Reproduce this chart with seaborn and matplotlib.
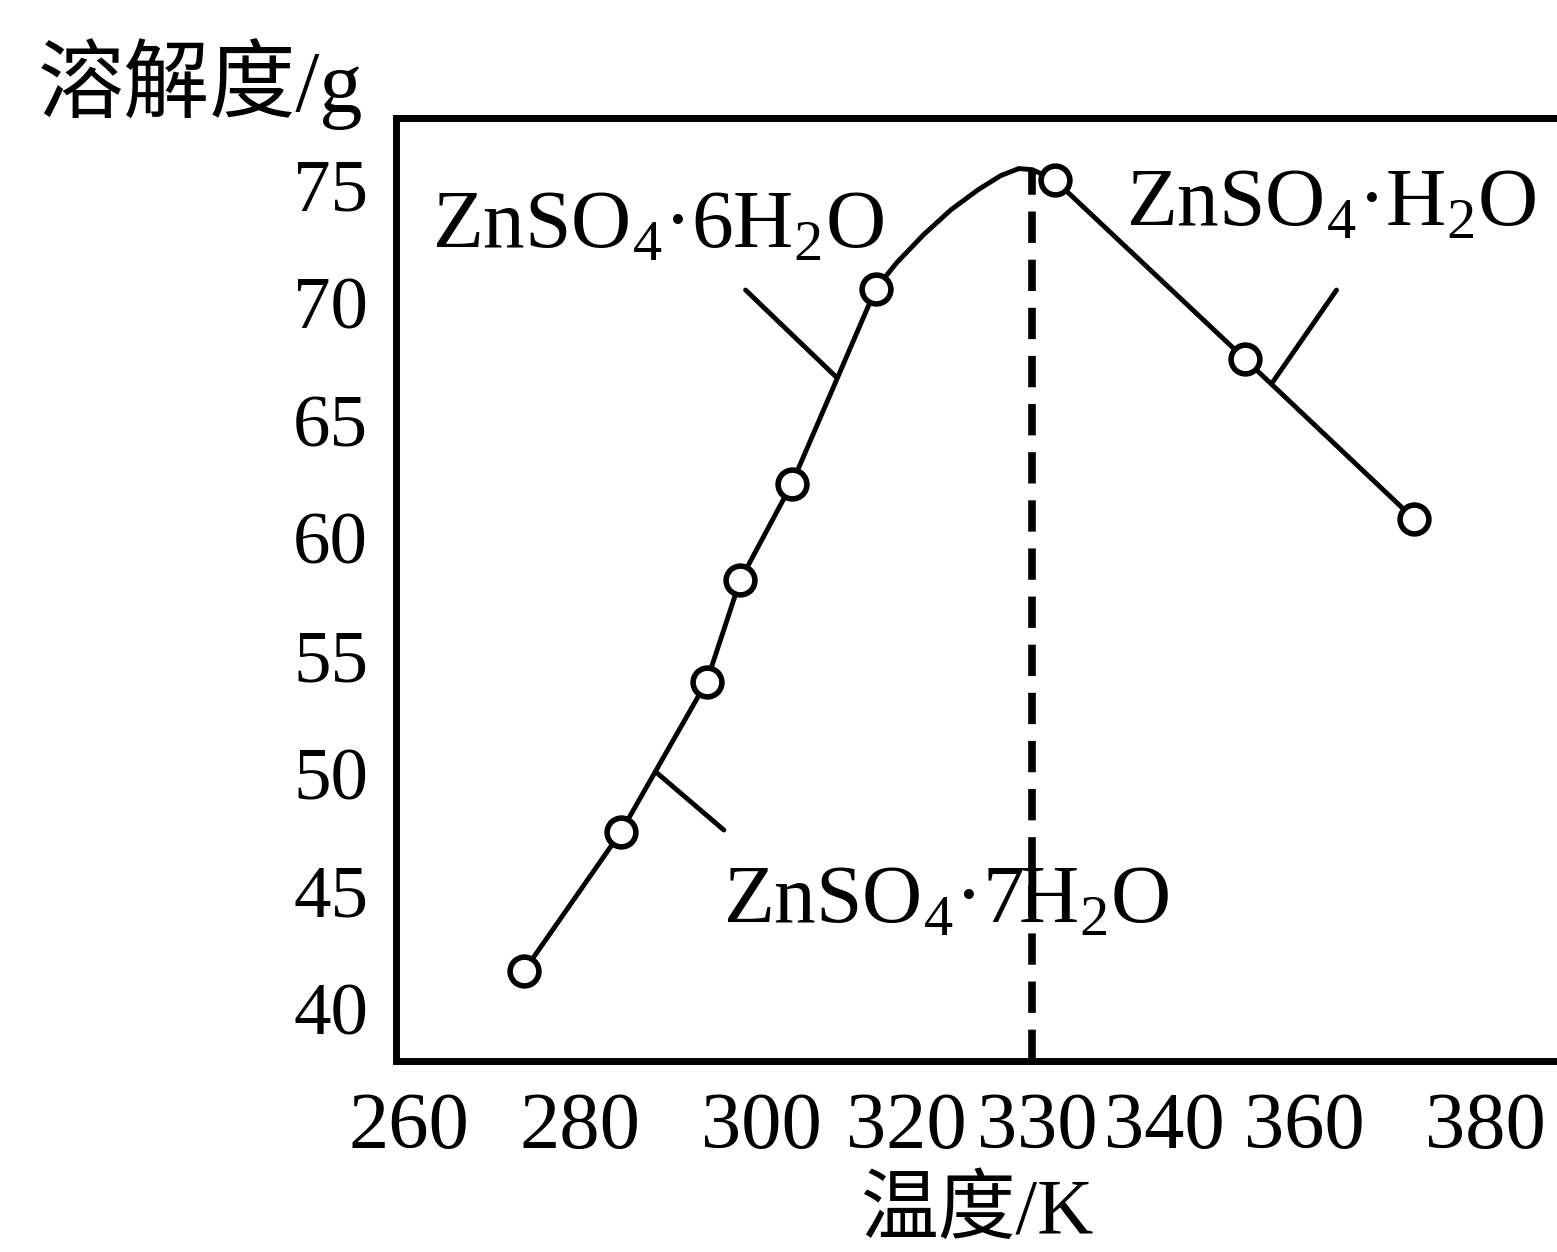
import matplotlib
matplotlib.use("Agg")
import matplotlib.pyplot as plt
import matplotlib.transforms as mtransforms
import seaborn as sns

temp_k = [273.8, 284.5, 294.0, 297.7, 303.4, 312.7, 332.5, 353.5, 372.2]
solub_g = [41.6, 47.5, 53.9, 58.2, 62.3, 70.6, 75.2, 67.6, 60.8]

# the drawn curve: measured points plus the bend near the transition
curve_k = [273.8, 284.5, 294.0, 297.7, 303.4, 312.7, 315.0, 318.0, 321.0,
           324.0, 326.5, 328.5, 330.0, 332.5, 353.5, 372.2]
curve_g = [41.6, 47.5, 53.9, 58.2, 62.3, 70.6, 71.7, 72.9, 73.95,
           74.8, 75.4, 75.7, 75.65, 75.2, 67.6, 60.8]

# transition temperature (dashed line)
trans_k = [330, 330]
trans_g = [37.8, 75.65]

x_ticks = [260, 280, 300, 320, 330, 340, 360, 380]
y_ticks = [40, 45, 50, 55, 60, 65, 70, 75]
x_shift_px = {260: 10, 320: -36, 330: 5, 340: 41}

phase_labels = ["ZnSO$_\\mathrm{4}$·6H$_\\mathrm{2}$O",
                "ZnSO$_\\mathrm{4}$·H$_\\mathrm{2}$O",
                "ZnSO$_\\mathrm{4}$·7H$_\\mathrm{2}$O"]
label_k = [263.6, 340.3, 295.8]
label_g = [72.37, 73.3, 43.7]
leader_k = [[298.3, 308.3], [363.6, 356.5], [288.5, 295.9]]
leader_g = [[70.54, 66.85], [70.54, 66.6], [50.03, 47.6]]

sns.set_style("white")
plt.rcParams["font.family"] = ["Liberation Serif", "Noto Sans CJK SC"]
plt.rcParams["mathtext.fontset"] = "custom"
plt.rcParams["mathtext.rm"] = "Liberation Serif"
for key in ["text.color", "axes.labelcolor", "xtick.color", "ytick.color"]:
    plt.rcParams[key] = "black"

fig = plt.figure(figsize=(15.57, 12.52), dpi=100)
ax = fig.add_axes([0.2543, 0.1526, 0.7457, 0.7532])

sns.lineplot(x=curve_k, y=curve_g, sort=False, estimator=None,
             color="black", lw=3.5, ax=ax)
ax.plot(trans_k, trans_g, color="black", lw=5.5, ls=(0, (4.1, 2.2)))
sns.scatterplot(x=temp_k, y=solub_g, marker="o", s=430, color="white",
                edgecolor="black", linewidth=4, zorder=4, ax=ax)

for txt, k, g in zip(phase_labels, label_k, label_g):
    ax.text(k, g, txt, fontsize=60, va="baseline", ha="left")
for lk, lg in zip(leader_k, leader_g):
    ax.plot(lk, lg, color="black", lw=3.5)

ax.set_xlim(259.67, 387.96)
ax.set_ylim(37.79, 77.85)
ax.set_xticks(x_ticks)
ax.set_yticks(y_ticks)
ax.tick_params(axis="x", direction="in", length=15, width=3.6,
               labelsize=58, pad=22)
ax.tick_params(axis="y", direction="in", length=19, width=3.6,
               labelsize=54, pad=20)

for sp in ["left", "bottom", "top"]:
    ax.spines[sp].set_linewidth(5)
    ax.spines[sp].set_color("black")
ax.spines["right"].set_visible(False)

for lab, val in zip(ax.get_xticklabels(), x_ticks):
    if val in x_shift_px:
        off = mtransforms.ScaledTranslation(x_shift_px[val] / 100, 0,
                                            fig.dpi_scale_trans)
        lab.set_transform(lab.get_transform() + off)

ax.set_xlabel("温度/K", fontsize=56, labelpad=10)
fig.text(38 / 1557, 1 - 130 / 1252, "溶解度/g", fontsize=62,
         ha="left", va="bottom")

fig.savefig("out.png", dpi=100)
